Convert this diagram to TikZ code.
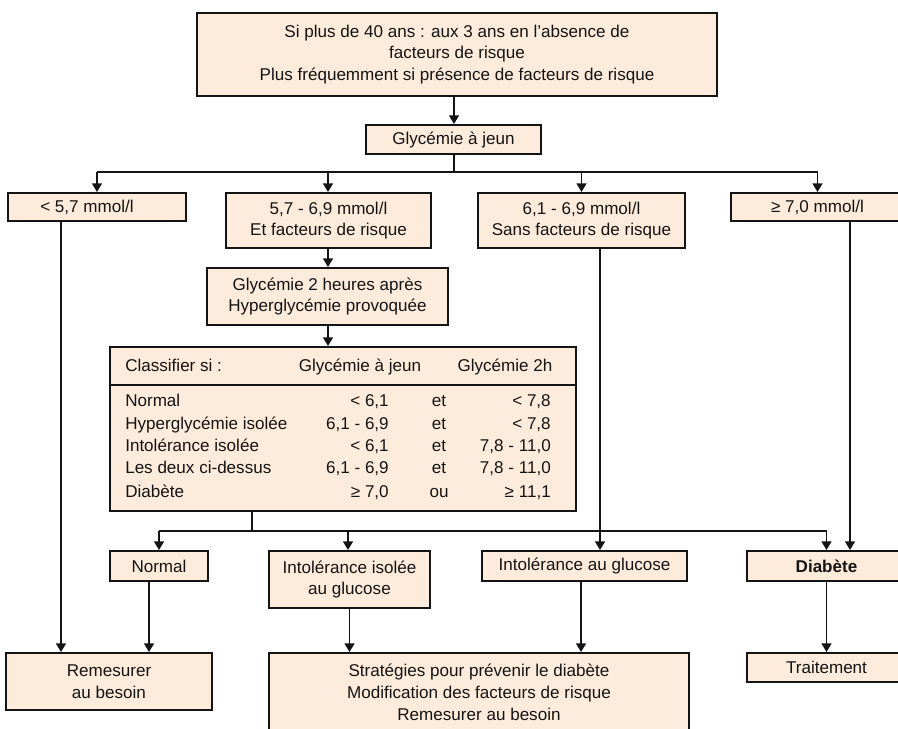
\documentclass[tikz,border=0pt]{standalone}
\usepackage{fontspec}
\setmainfont{Liberation Sans}
\usetikzlibrary{arrows.meta}
\definecolor{peach}{RGB}{253,236,220}
\definecolor{ink}{RGB}{20,20,20}
\def\pxu{0.75pt}
\newcommand\dfont{\fontsize{12.8pt}{16.3pt}\selectfont}
\begin{document}
\begin{tikzpicture}[x=0.75pt,y=-0.75pt,
  box/.style 2 args={draw=ink, fill=peach, line width=1.5pt, minimum width=#1*\pxu, minimum height=#2*\pxu, inner sep=0pt, align=center, font=\dfont, text=ink},
  txt/.style={inner sep=0pt, font=\dfont, text=ink},
  ln/.style={draw=ink, line width=1.1pt},
  arr/.style={draw=ink, line width=1.1pt, -{Triangle[length=6.5pt,width=7.5pt]}}]
\useasboundingbox (0,0) rectangle (898,728);

% boxes
\node[box={520}{83}] (top) at (457,54.5) {Si plus de 40 ans : aux 3 ans en l'absence de\\facteurs de risque\\Plus fréquemment si présence de facteurs de risque};
\node[box={175}{29}] (gly) at (453.5,139.5) {Glycémie à jeun};
\node[box={178}{28}] (A) at (97,207) {\hspace*{-15pt}< 5,7 mmol/l};
\node[box={205}{55}] (B) at (328.5,220.5) {5,7 - 6,9 mmol/l\\Et facteurs de risque};
\node[box={207}{55}] (C) at (581.5,220.5) {6,1 - 6,9 mmol/l\\Sans facteurs de risque};
\node[box={173}{28}] (D) at (817.5,207) {≥ 7,0 mmol/l};
\node[box={241}{57}] (G2) at (327.5,296.5) {Glycémie 2 heures après\\Hyperglycémie provoquée};
\node[box={466}{164}] (T) at (343,429) {};
\node[box={98}{30}] (N) at (159,566) {Normal};
\node[box={161}{57}] (IS) at (349.5,579.5) {Intolérance isolée\\au glucose};
\node[box={205}{30}] (IG) at (584.5,566) {Intolérance au glucose};
\node[box={159}{30}] (DB) at (826.5,566) {\bfseries Diabète};
\node[box={206}{57}] (R) at (109,681.5) {Remesurer\\au besoin};
\node[box={420}{79}] (S) at (479,692.5) {Stratégies pour prévenir le diabète\\Modification des facteurs de risque\\Remesurer au besoin};
\node[box={159}{29}] (TR) at (826.5,667.5) {Traitement};

% table contents
\coordinate (sep) at (0,385);
\draw[draw=ink, line width=1.5pt] (T.west |- sep) -- (T.east |- sep);
\node[txt, anchor=mid west] (h1) at (125,368) {Classifier si :};
\node[txt, anchor=mid] (h2) at (360,368) {Glycémie à jeun};
\node[txt, anchor=mid] (h3) at (505,368) {Glycémie 2h};

\node[txt, anchor=mid west] (r1a) at (125,403) {Normal};
\node[txt, anchor=mid east] (r1b) at (389,403) {< 6,1};
\node[txt, anchor=mid] (r1c) at (439,403) {et};
\node[txt, anchor=mid east] (r1d) at (551,403) {< 7,8};

\node[txt, anchor=mid west] (r2a) at (125,426) {Hyperglycémie isolée};
\node[txt, anchor=mid east] (r2b) at (389,426) {6,1 - 6,9};
\node[txt, anchor=mid] (r2c) at (439,426) {et};
\node[txt, anchor=mid east] (r2d) at (551,426) {< 7,8};

\node[txt, anchor=mid west] (r3a) at (125,448) {Intolérance isolée};
\node[txt, anchor=mid east] (r3b) at (389,448) {< 6,1};
\node[txt, anchor=mid] (r3c) at (439,448) {et};
\node[txt, anchor=mid east] (r3d) at (551,448) {7,8 - 11,0};

\node[txt, anchor=mid west] (r4a) at (125,470) {Les deux ci-dessus};
\node[txt, anchor=mid east] (r4b) at (389,470) {6,1 - 6,9};
\node[txt, anchor=mid] (r4c) at (439,470) {et};
\node[txt, anchor=mid east] (r4d) at (551,470) {7,8 - 11,0};

\node[txt, anchor=mid west] (r5a) at (125,494) {Diabète};
\node[txt, anchor=mid east] (r5b) at (389,494) {≥ 7,0};
\node[txt, anchor=mid] (r5c) at (439,494) {ou};
\node[txt, anchor=mid east] (r5d) at (551,494) {≥ 11,1};

% connector helper coordinates
\coordinate (b1) at (454,172);
\coordinate (b2) at (252,531);
\coordinate (xa) at (61,0);
\coordinate (xb) at (328,0);
\coordinate (xi) at (348,0);
\coordinate (xc) at (600,0);
\coordinate (xd) at (850,0);
\coordinate (xn) at (149,0);
\coordinate (xg) at (581,0);

% top part
\draw[arr] (b1 |- top.south) -- (b1 |- gly.north);
\draw[ln] (b1 |- gly.south) -- (b1);
\draw[ln] (b1 -| A.north) -- (b1 -| D.north);
\draw[arr] (b1 -| A.north) -- (A.north);
\draw[arr] (b1 -| xb) -- (B.north -| xb);
\draw[arr] (b1 -| C.north) -- (C.north);
\draw[arr] (b1 -| D.north) -- (D.north);

% verticals
\draw[arr] (A.south -| xa) -- (R.north -| xa);
\draw[arr] (B.south -| xb) -- (G2.north -| xb);
\draw[arr] (G2.south -| xb) -- (T.north -| xb);
\draw[arr] (C.south -| xc) -- (IG.north -| xc);
\draw[arr] (D.south -| xd) -- (DB.north -| xd);

% bottom branch
\draw[ln] (T.south -| b2) -- (b2);
\draw[ln] (b2 -| N.north) -- (b2 -| DB.north);
\draw[arr] (b2 -| N.north) -- (N.north);
\draw[arr] (b2 -| xi) -- (IS.north -| xi);
\draw[arr] (b2 -| DB.north) -- (DB.north);

% to bottom boxes
\draw[arr] (N.south -| xn) -- (R.north -| xn);
\draw[arr] (IS.south) -- (S.north -| IS.south);
\draw[arr] (IG.south -| xg) -- (S.north -| xg);
\draw[arr] (DB.south) -- (TR.north);
\end{tikzpicture}
\end{document}
